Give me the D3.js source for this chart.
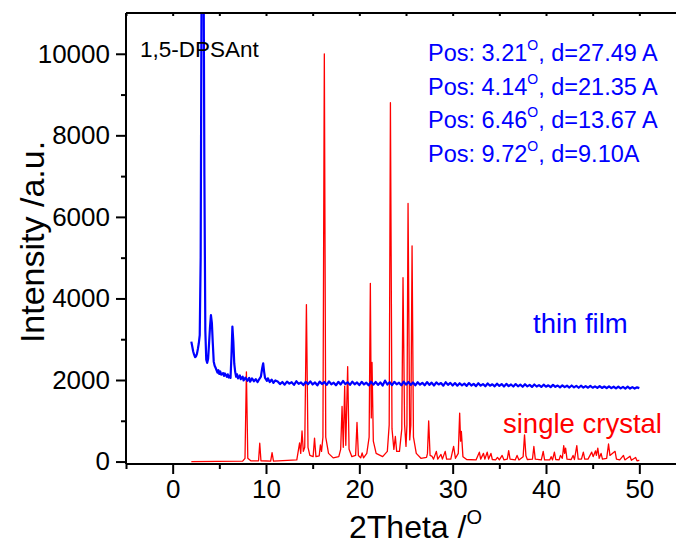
<!DOCTYPE html>
<html>
<head>
<meta charset="utf-8">
<script src="https://cdn.jsdelivr.net/npm/d3@7"></script>
<style>
  html, body { margin: 0; padding: 0; background: #fff; }
  svg { display: block; font-family: "Liberation Sans", Arial, sans-serif; }
</style>
</head>
<body>
<svg id="xrd"></svg>
<script>
// tick values
const xMajor = [0, 10, 20, 30, 40, 50];
const xMinor = [-5, 5, 15, 25, 35, 45, 55];
const yMajor = [0, 2000, 4000, 6000, 8000, 10000];
const yMinor = [1000, 3000, 5000, 7000, 9000];

// thin film pattern [2theta, intensity]
const filmPts = [
  [2.0, 2940], [2.1, 2820], [2.2, 2700], [2.3, 2620], [2.4, 2560], [2.5, 2580], [2.6, 2640], [2.7, 2760],
  [2.8, 2900], [2.9, 3100], [3.0, 5000], [3.1, 12000], [3.2, 14000], [3.3, 13000], [3.4, 7000], [3.5, 3200],
  [3.6, 2500], [3.7, 2420], [3.8, 2520], [3.9, 2900], [4.0, 3300], [4.1, 3590], [4.2, 3400], [4.3, 2900],
  [4.4, 2450], [4.5, 2350], [4.6, 2300], [4.8, 2180], [4.9, 2240], [5.0, 2150], [5.1, 2210], [5.2, 2130],
  [5.4, 2170], [5.5, 2100], [5.6, 2160], [5.8, 2080], [5.9, 2140], [6.0, 2060], [6.1, 2100], [6.2, 2050],
  [6.3, 2600], [6.4, 3310], [6.5, 2950], [6.6, 2400], [6.7, 2200], [6.8, 2080], [6.9, 2140], [7.0, 2040],
  [7.2, 2110], [7.3, 2020], [7.5, 2080], [7.6, 1990], [7.8, 2060], [8.0, 1980], [8.2, 2050], [8.3, 1960],
  [8.5, 2040], [8.7, 1970], [8.9, 2020], [9.1, 1950], [9.3, 2030], [9.45, 2080], [9.6, 2300], [9.7, 2410],
  [9.8, 2200], [9.9, 2050], [10.1, 1980], [10.2, 2040], [10.4, 1950], [10.6, 2010], [10.8, 1930], [11.0, 1990],
  [11.25, 1965], [11.5, 1900], [11.75, 1950], [12.0, 1885], [12.25, 1960], [12.5, 1910], [12.75, 1945], [13.0, 1880],
  [13.25, 1970], [13.5, 1905], [13.75, 1940], [14.0, 1875], [14.25, 1955], [14.5, 1895], [14.75, 1965], [15.0, 1890],
  [15.25, 1940], [15.5, 1870], [15.75, 1960], [16.0, 1900], [16.25, 1950], [16.5, 1880], [16.75, 1965], [17.0, 1895],
  [17.25, 1935], [17.5, 1870], [17.75, 1955], [18.0, 1890], [18.25, 1975], [18.5, 1900], [18.75, 1945], [19.0, 1880],
  [19.25, 1960], [19.5, 1895], [19.75, 1940], [20.0, 1875], [20.25, 1955], [20.5, 1890], [20.75, 1935], [21.0, 1870],
  [21.25, 1960], [21.5, 1885], [21.75, 1950], [22.0, 1880], [22.25, 1940], [22.5, 1865], [22.75, 1985], [23.0, 1890],
  [23.25, 1945], [23.5, 1875], [23.75, 1955], [24.0, 1895], [24.25, 1935], [24.5, 1870], [24.75, 1960], [25.0, 1885],
  [25.25, 1950], [25.5, 1880], [25.75, 1940], [26.0, 1870], [26.25, 1945], [26.5, 1885], [26.75, 1930], [27.0, 1870],
  [27.25, 1950], [27.5, 1880], [27.75, 1935], [28.0, 1865], [28.25, 1940], [28.5, 1890], [28.75, 1925], [29.0, 1860],
  [29.25, 1945], [29.5, 1880], [29.75, 1930], [30.0, 1865], [30.25, 1925], [30.5, 1860], [30.75, 1920], [31.0, 1870],
  [31.25, 1910], [31.5, 1855], [31.75, 1925], [32.0, 1865], [32.25, 1905], [32.5, 1850], [32.75, 1920], [33.0, 1860],
  [33.25, 1900], [33.5, 1845], [33.75, 1915], [34.0, 1860], [34.25, 1895], [34.5, 1845], [34.75, 1910], [35.0, 1855],
  [35.25, 1900], [35.5, 1840], [35.75, 1905], [36.0, 1850], [36.25, 1890], [36.5, 1840], [36.75, 1900], [37.0, 1845],
  [37.25, 1885], [37.5, 1835], [37.75, 1895], [38.0, 1845], [38.25, 1880], [38.5, 1830], [38.75, 1890], [39.0, 1840],
  [39.25, 1875], [39.5, 1830], [39.75, 1885], [40.0, 1835], [40.25, 1870], [40.5, 1825], [40.75, 1880], [41.0, 1830],
  [41.25, 1865], [41.5, 1820], [41.75, 1870], [42.0, 1825], [42.25, 1860], [42.5, 1815], [42.75, 1865], [43.0, 1820],
  [43.25, 1855], [43.5, 1810], [43.75, 1860], [44.0, 1815], [44.25, 1850], [44.5, 1810], [44.75, 1855], [45.0, 1810],
  [45.25, 1845], [45.5, 1805], [45.75, 1850], [46.0, 1805], [46.25, 1840], [46.5, 1800], [46.75, 1845], [47.0, 1800],
  [47.25, 1835], [47.5, 1795], [47.75, 1840], [48.0, 1795], [48.25, 1830], [48.5, 1790], [48.75, 1835], [49.0, 1790],
  [49.25, 1825], [49.5, 1790], [49.75, 1820], [50.0, 1800]
];

// single crystal (simulated) pattern [2theta, intensity]
const crystalPts = [
  [2.0, 0], [7.5, 10], [7.75, 80], [7.9, 2200], [8.05, 80], [8.4, 15],
  [9.2, 20], [9.33, 450], [9.46, 20], [10.5, 10], [10.65, 220], [10.8, 10],
  [13.3, 40], [13.6, 460], [13.72, 200], [13.86, 750], [14.0, 250], [14.15, 350], [14.33, 3850], [14.5, 350], [14.7, 150],
  [15.05, 120], [15.2, 575], [15.35, 120], [15.7, 140], [15.83, 410], [15.95, 250], [16.1, 600], [16.25, 10000],
  [16.4, 600], [16.7, 200], [17.2, 90], [17.8, 120], [18.0, 300], [18.15, 1350], [18.28, 350], [18.43, 1850],
  [18.55, 400], [18.75, 2330], [18.9, 300], [19.2, 120], [19.6, 150], [19.75, 960], [19.9, 150], [20.15, 90],
  [20.3, 210], [20.45, 90], [20.8, 200], [21.05, 600], [21.18, 4370], [21.28, 1070], [21.36, 2430], [21.5, 500],
  [21.8, 200], [22.5, 120], [23.0, 250], [23.2, 900], [23.33, 8800], [23.5, 800], [23.7, 300], [23.86, 615],
  [24.0, 250], [24.3, 250], [24.55, 800], [24.68, 4510], [24.85, 900], [25.0, 370], [25.1, 900], [25.22, 6330],
  [25.4, 530], [25.52, 900], [25.65, 5290], [25.8, 600], [26.1, 200], [26.6, 80], [27.2, 100], [27.3, 200],
  [27.43, 1000], [27.58, 150], [27.8, 125], [27.95, 60], [28.25, 250], [28.4, 60], [28.75, 175], [28.9, 60],
  [29.2, 250], [29.35, 60], [29.8, 60], [30.1, 370], [30.3, 80], [30.6, 200], [30.75, 1190], [30.85, 500],
  [30.93, 740], [31.1, 120], [31.5, 50], [32.5, 40], [32.86, 230], [33.0, 60], [33.3, 200], [33.45, 60],
  [33.7, 230], [33.85, 60], [34.1, 200], [34.25, 50], [34.6, 40], [34.8, 100], [35.0, 40], [35.3, 150],
  [35.5, 40], [35.85, 60], [36.0, 270], [36.15, 60], [36.7, 40], [36.9, 150], [37.1, 40], [37.55, 120],
  [37.7, 655], [37.85, 140], [38.0, 50], [38.55, 60], [38.7, 370], [38.85, 60], [39.5, 40], [39.7, 250],
  [39.85, 40], [40.4, 40], [40.55, 120], [40.7, 40], [40.9, 230], [41.05, 50], [41.4, 40], [41.55, 150],
  [41.75, 80], [41.9, 390], [42.0, 200], [42.1, 330], [42.25, 60], [42.7, 50], [42.9, 150], [43.05, 50],
  [43.3, 390], [43.45, 60], [43.8, 60], [44.0, 230], [44.15, 60], [44.5, 60], [44.9, 230], [45.05, 120],
  [45.3, 260], [45.4, 150], [45.55, 330], [45.7, 80], [45.9, 200], [46.05, 60], [46.5, 80], [46.7, 430],
  [46.85, 150], [47.4, 250], [47.55, 60], [47.9, 40], [48.3, 150], [48.45, 40], [49.0, 130], [49.15, 30],
  [49.6, 100], [49.75, 20], [50.0, 30]
];

// peak annotations
const peakPos = ['3.21', '4.14', '6.46', '9.72'];
const dSpacing = ['d=27.49 A', 'd=21.35 A', 'd=13.67 A', 'd=9.10A'];

const width = 676;
const height = 546;
const margin = { top: 13, left: 126 };
const plotBottom = 464;
const plotRight = 686; // right frame falls just past the crop

const svg = d3.select('#xrd')
  .attr('width', width)
  .attr('height', height);

const x = d3.scaleLinear().domain([-5, 55]).range([margin.left, plotRight]);
const y = d3.scaleLinear().domain([-60, 11000]).range([plotBottom, margin.top]);

svg.append('clipPath').attr('id', 'plotclip')
  .append('rect')
  .attr('x', margin.left).attr('y', margin.top)
  .attr('width', plotRight - margin.left).attr('height', plotBottom - margin.top);

const line = d3.line().x(d => x(d[0])).y(d => y(d[1]));

const plot = svg.append('g').attr('clip-path', 'url(#plotclip)');

plot.append('path')
  .datum(crystalPts)
  .attr('d', line)
  .attr('fill', 'none')
  .attr('stroke', '#ff0000')
  .attr('stroke-width', 1.3)
  .attr('stroke-linejoin', 'round');

plot.append('path')
  .datum(filmPts)
  .attr('d', line)
  .attr('fill', 'none')
  .attr('stroke', '#0000ff')
  .attr('stroke-width', 2.2)
  .attr('stroke-linejoin', 'round');

// axes
const styleAxis = g => {
  g.select('.domain').remove();
  g.selectAll('.tick line').attr('stroke', '#000').attr('stroke-width', 2);
  g.selectAll('.tick text').attr('fill', '#000').attr('font-size', 26)
    .attr('font-family', '"Liberation Sans", Arial, sans-serif');
};

svg.append('g')
  .attr('transform', `translate(0,${plotBottom})`)
  .call(d3.axisBottom(x).tickValues(xMajor).tickSize(10).tickPadding(6).tickFormat(d3.format('d')))
  .call(styleAxis);

svg.append('g')
  .attr('transform', `translate(0,${plotBottom})`)
  .call(d3.axisBottom(x).tickValues(xMinor).tickSize(5).tickFormat(''))
  .call(styleAxis);

svg.append('g')
  .attr('transform', `translate(${margin.left},0)`)
  .call(d3.axisLeft(y).tickValues(yMajor).tickSize(10).tickPadding(6).tickFormat(d3.format('d')))
  .call(styleAxis);

svg.append('g')
  .attr('transform', `translate(${margin.left},0)`)
  .call(d3.axisLeft(y).tickValues(yMinor).tickSize(5).tickFormat(''))
  .call(styleAxis);

// top frame ticks
svg.append('g')
  .attr('transform', `translate(0,${margin.top})`)
  .call(d3.axisBottom(x).tickValues(xMajor.concat(xMinor)).tickSize(3).tickFormat(''))
  .call(styleAxis);

// frame lines
svg.append('line')
  .attr('x1', margin.left).attr('x2', plotRight)
  .attr('y1', plotBottom).attr('y2', plotBottom)
  .attr('stroke', '#000').attr('stroke-width', 2);
svg.append('line')
  .attr('x1', margin.left).attr('x2', plotRight)
  .attr('y1', margin.top).attr('y2', margin.top)
  .attr('stroke', '#000').attr('stroke-width', 2);
svg.append('line')
  .attr('x1', margin.left).attr('x2', margin.left)
  .attr('y1', margin.top).attr('y2', plotBottom)
  .attr('stroke', '#000').attr('stroke-width', 2);

// axis titles
const xTitle = svg.append('text')
  .attr('x', 349).attr('y', 538)
  .attr('font-size', 32)
  .attr('fill', '#000');
xTitle.append('tspan').text('2Theta /');
xTitle.append('tspan').attr('font-size', 20).attr('dy', -14).text('O');

svg.append('text')
  .attr('transform', 'rotate(-90)')
  .attr('x', -242)
  .attr('y', 44)
  .attr('text-anchor', 'middle')
  .attr('font-size', 34)
  .attr('fill', '#000')
  .text('Intensity /a.u.');

// sample label
svg.append('text')
  .attr('x', 140).attr('y', 57)
  .attr('font-size', 22.5)
  .attr('fill', '#000')
  .text('1,5-DPSAnt');

// peak annotations
peakPos.forEach((p, i) => {
  const t = svg.append('text')
    .attr('x', 428).attr('y', 61 + i * 33.7)
    .attr('font-size', 23.5)
    .attr('fill', '#0000ff');
  t.append('tspan').text(`Pos: ${p}`);
  t.append('tspan').attr('font-size', 14).attr('dy', -11).text('O');
  t.append('tspan').attr('dy', 11).text(`, ${dSpacing[i]}`);
});

svg.append('text')
  .attr('x', 533).attr('y', 333)
  .attr('font-size', 27.5)
  .attr('fill', '#0000ff')
  .text('thin film');

svg.append('text')
  .attr('x', 503).attr('y', 433)
  .attr('font-size', 27.5)
  .attr('fill', '#ff0000')
  .text('single crystal');
</script>
</body>
</html>
